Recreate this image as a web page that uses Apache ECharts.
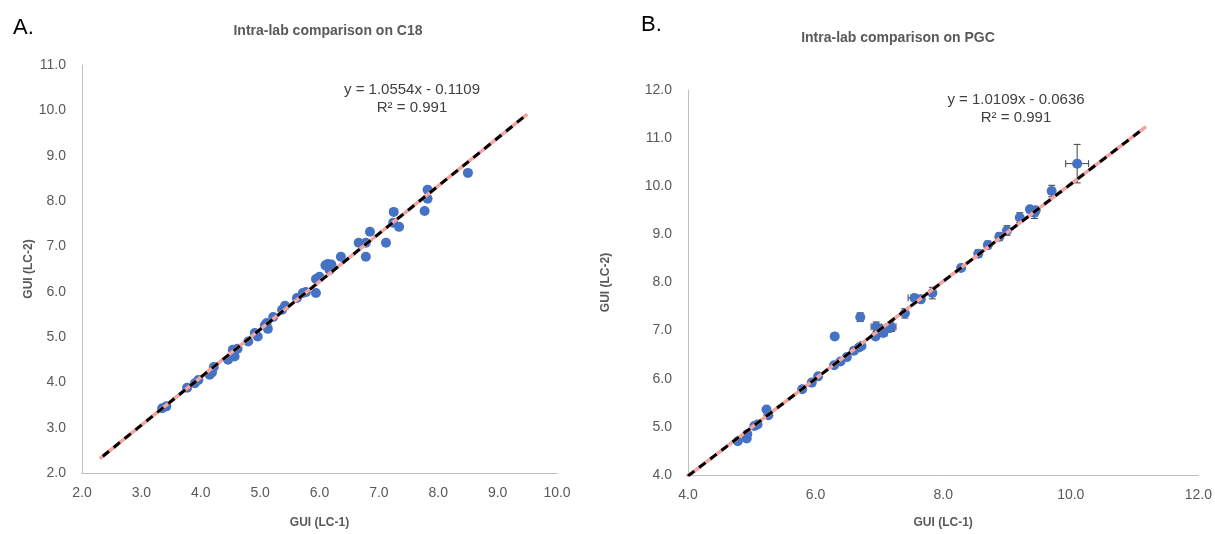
<!DOCTYPE html>
<html>
<head>
<meta charset="utf-8">
<script src="https://cdn.jsdelivr.net/npm/echarts@6/dist/echarts.min.js"></script>
<style>
html,body{margin:0;padding:0;background:#fff;}
#chart{width:1215px;height:534px;}
</style>
</head>
<body>
<div id="chart"></div>
<script>
// ---- Panel A: C18 ----
const c18X = [3.35,3.42,3.77,3.90,3.96,4.15,4.19,4.22,4.46,4.57,4.54,4.62,4.80,4.91,4.96,5.11,5.13,5.08,5.22,5.37,5.42,5.62,5.72,5.77,5.94,5.94,6.00,6.14,6.17,6.10,6.20,6.36,6.66,6.78,6.78,6.85,7.12,7.24,7.25,7.34,7.77,7.82,7.82,8.50];
const c18Y = [3.43,3.47,3.88,3.98,4.05,4.17,4.22,4.34,4.50,4.57,4.72,4.74,4.90,5.09,5.01,5.31,5.18,5.26,5.44,5.60,5.69,5.86,5.97,5.99,5.97,6.28,6.33,6.61,6.48,6.58,6.60,6.77,7.08,7.08,6.77,7.32,7.08,7.52,7.76,7.43,7.78,8.05,8.25,8.62];
const c18Trend = {slope: 1.0554, intercept: -0.1109, from: 2.3, to: 9.5, dashFrom: 2.35, dashTo: 9.45};
const c18XTicks = [2,3,4,5,6,7,8,9,10];
const c18YTicks = [2,3,4,5,6,7,8,9,10,11];

// ---- Panel B: PGC ----
const pgcX = [4.78,4.92,4.93,5.04,5.09,5.23,5.26,5.79,5.94,6.04,6.29,6.30,6.39,6.49,6.60,6.68,6.72,6.70,6.94,6.95,7.03,7.06,7.14,7.18,7.40,7.55,7.65,7.83,8.28,8.55,8.70,8.88,9.00,9.20,9.36,9.45,9.43,9.70,10.10];
const pgcY = [4.70,4.76,4.85,5.02,5.05,5.36,5.24,5.78,5.92,6.05,6.28,6.88,6.36,6.45,6.58,6.65,6.68,7.28,6.88,7.08,7.03,6.95,7.05,7.08,7.36,7.68,7.65,7.78,8.30,8.60,8.78,8.95,9.08,9.35,9.52,9.50,9.45,9.90,10.47];
const pgcXErr = [0.03,0.00,0.03,0.04,0.03,0.03,0.02,0.02,0.03,0.03,0.03,0.02,0.03,0.03,0.03,0.05,0.04,0.03,0.04,0.08,0.05,0.06,0.10,0.08,0.04,0.10,0.04,0.04,0.03,0.04,0.03,0.04,0.04,0.04,0.04,0.04,0.04,0.04,0.18];
const pgcYErr = [0.03,0.05,0.04,0.04,0.04,0.04,0.05,0.03,0.03,0.03,0.03,0.03,0.04,0.04,0.04,0.05,0.05,0.09,0.06,0.10,0.08,0.06,0.08,0.10,0.10,0.04,0.05,0.12,0.04,0.08,0.08,0.08,0.10,0.10,0.06,0.06,0.12,0.12,0.40];
const pgcTrend = {slope: 1.0109, intercept: -0.0636, from: 3.98, to: 11.18, dashFrom: 4.0, dashTo: 11.12};
const pgcXTicks = [4,6,8,10,12];
const pgcYTicks = [4,5,6,7,8,9,10,11,12];

const titles = ['Intra-lab comparison on C18', 'Intra-lab comparison on PGC'];
const panelLabels = ['A.', 'B.'];
const axisNames = {x: 'GUI (LC-1)', y: 'GUI (LC-2)'};
const eqText = [['y = 1.0554x - 0.1109', 'R² = 0.991'], ['y = 1.0109x - 0.0636', 'R² = 0.991']];

const FONT = '"Liberation Sans", Arial, sans-serif';
const TXT = '#595959';
const AXLINE = '#bfbfbf';
const BLUE = '#4472C4';

function pairs(xs, ys) { return xs.map((x, i) => [x, ys[i]]); }
function trendPts(t, a, b) { return [[a, t.slope * a + t.intercept], [b, t.slope * b + t.intercept]]; }

function xAxisCfg(gi, ticks, interval, gap) {
  return {
    gridIndex: gi, type: 'value', min: ticks[0], max: ticks[ticks.length - 1], interval: interval,
    name: axisNames.x, nameLocation: 'middle', nameGap: gap,
    nameTextStyle: {color: TXT, fontWeight: 'bold', fontSize: 12, fontFamily: FONT},
    axisLine: {show: true, onZero: false, lineStyle: {color: AXLINE, width: 1}},
    axisTick: {show: false}, splitLine: {show: false},
    axisLabel: {color: TXT, fontSize: 14, fontFamily: FONT, margin: 13, formatter: v => v.toFixed(1)}
  };
}
function yAxisCfg(gi, ticks, interval, gap) {
  return {
    gridIndex: gi, type: 'value', min: ticks[0], max: ticks[ticks.length - 1], interval: interval,
    name: axisNames.y, nameLocation: 'middle', nameGap: gap, nameRotate: 90,
    nameTextStyle: {color: TXT, fontWeight: 'bold', fontSize: 12, fontFamily: FONT},
    axisLine: {show: true, onZero: false, lineStyle: {color: AXLINE, width: 1}},
    axisTick: {show: false}, splitLine: {show: false},
    axisLabel: {color: TXT, fontSize: 14, fontFamily: FONT, margin: 16, formatter: v => v.toFixed(1)}
  };
}

const errData = pgcX.map((x, i) => [x, pgcY[i], pgcXErr[i], pgcYErr[i]]);

function renderErr(params, api) {
  const x = api.value(0), y = api.value(1), ex = api.value(2), ey = api.value(3);
  const style = {stroke: '#404040', lineWidth: 1, fill: null};
  const children = [];
  const cap = 3.5;
  if (ey > 0) {
    const top = api.coord([x, y + ey]), bot = api.coord([x, y - ey]);
    children.push({type: 'line', shape: {x1: top[0], y1: top[1], x2: bot[0], y2: bot[1]}, style: style});
    children.push({type: 'line', shape: {x1: top[0] - cap, y1: top[1], x2: top[0] + cap, y2: top[1]}, style: style});
    children.push({type: 'line', shape: {x1: bot[0] - cap, y1: bot[1], x2: bot[0] + cap, y2: bot[1]}, style: style});
  }
  if (ex > 0) {
    const l = api.coord([x - ex, y]), r = api.coord([x + ex, y]);
    children.push({type: 'line', shape: {x1: l[0], y1: l[1], x2: r[0], y2: r[1]}, style: style});
    children.push({type: 'line', shape: {x1: l[0], y1: l[1] - cap, x2: l[0], y2: l[1] + cap}, style: style});
    children.push({type: 'line', shape: {x1: r[0], y1: r[1] - cap, x2: r[0], y2: r[1] + cap}, style: style});
  }
  return {type: 'group', children: children};
}

const chart = echarts.init(document.getElementById('chart'), null, {renderer: 'canvas'});
chart.setOption({
  backgroundColor: '#fff',
  animation: false,
  title: [
    {text: panelLabels[0], left: 8, top: 12, textStyle: {fontSize: 22, fontWeight: 'normal', color: '#000', fontFamily: FONT}},
    {text: titles[0], left: 323, textAlign: 'center', top: 19, textStyle: {fontSize: 14, fontWeight: 'bold', color: TXT, fontFamily: FONT}},
    {text: panelLabels[1], left: 636, top: 9, textStyle: {fontSize: 22, fontWeight: 'normal', color: '#000', fontFamily: FONT}},
    {text: titles[1], left: 893, textAlign: 'center', top: 26, textStyle: {fontSize: 14, fontWeight: 'bold', color: TXT, fontFamily: FONT}}
  ],
  graphic: [
    {type: 'text', x: 412, y: 82, style: {text: eqText[0][0], textAlign: 'center', fill: '#404040', font: '15px ' + FONT}},
    {type: 'text', x: 412, y: 100, style: {text: eqText[0][1], textAlign: 'center', fill: '#404040', font: '15px ' + FONT}},
    {type: 'text', x: 1016, y: 92, style: {text: eqText[1][0], textAlign: 'center', fill: '#404040', font: '15px ' + FONT}},
    {type: 'text', x: 1016, y: 110, style: {text: eqText[1][1], textAlign: 'center', fill: '#404040', font: '15px ' + FONT}}
  ],
  grid: [
    {left: 82, top: 65, width: 475, height: 408},
    {left: 688, top: 90, width: 514, height: 386}
  ],
  xAxis: [xAxisCfg(0, c18XTicks, 1, 44), xAxisCfg(1, pgcXTicks, 2, 42)],
  yAxis: [yAxisCfg(0, c18YTicks, 1, 47), yAxisCfg(1, pgcYTicks, 1, 76)],
  series: [
    {type: 'scatter', xAxisIndex: 0, yAxisIndex: 0, data: pairs(c18X, c18Y), symbolSize: 10, itemStyle: {color: BLUE, opacity: 1}, z: 2},
    {type: 'line', xAxisIndex: 0, yAxisIndex: 0, data: trendPts(c18Trend, c18Trend.from, c18Trend.to), symbol: 'none', lineStyle: {color: '#F5A3A0', width: 3.5}, z: 3},
    {type: 'line', xAxisIndex: 0, yAxisIndex: 0, data: trendPts(c18Trend, c18Trend.dashFrom, c18Trend.dashTo), symbol: 'none', lineStyle: {color: '#000', width: 3, type: [8, 6]}, z: 4},
    {type: 'custom', xAxisIndex: 1, yAxisIndex: 1, data: errData, renderItem: renderErr, z: 1, encode: {x: 0, y: 1}},
    {type: 'scatter', xAxisIndex: 1, yAxisIndex: 1, data: pairs(pgcX, pgcY), symbolSize: 10, itemStyle: {color: BLUE, opacity: 1}, z: 2},
    {type: 'line', xAxisIndex: 1, yAxisIndex: 1, data: trendPts(pgcTrend, pgcTrend.from, pgcTrend.to), symbol: 'none', lineStyle: {color: '#F5A3A0', width: 3.5}, z: 3},
    {type: 'line', xAxisIndex: 1, yAxisIndex: 1, data: trendPts(pgcTrend, pgcTrend.dashFrom, pgcTrend.dashTo), symbol: 'none', lineStyle: {color: '#000', width: 3, type: [8, 6]}, z: 4}
  ]
});
</script>
</body>
</html>
